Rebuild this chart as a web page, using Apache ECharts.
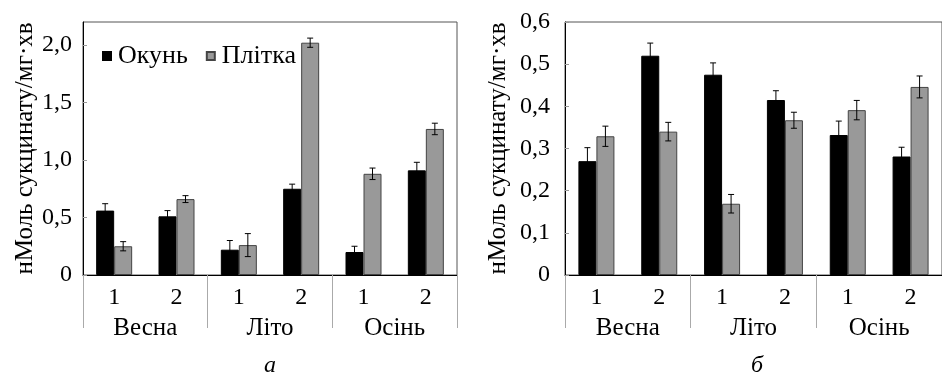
<!DOCTYPE html>
<html>
<head>
<meta charset="utf-8">
<script src="https://cdn.jsdelivr.net/npm/echarts@6/dist/echarts.min.js"></script>
<style>
  html, body { margin: 0; padding: 0; background: #fff; }
  #chart { width: 942px; height: 380px; }
</style>
</head>
<body>
<div id="chart"></div>
<script>
// seasons and sample numbers on the category axis
const seasons = ["Весна", "Літо", "Осінь"];
const samples = ["1", "2"];
const legendNames = ["Окунь", "Плітка"];
const yName = "нМоль сукцинату/мг·хв";

// panel а
const perchA = [0.56, 0.51, 0.22, 0.75, 0.2, 0.91];
const perchAErr = [0.06, 0.05, 0.08, 0.04, 0.05, 0.07];
const roachA = [0.25, 0.66, 0.26, 2.02, 0.88, 1.27];
const roachAErr = [0.04, 0.03, 0.1, 0.04, 0.05, 0.05];

// panel б
const perchB = [0.27, 0.52, 0.475, 0.415, 0.332, 0.281];
const perchBErr = [0.032, 0.03, 0.028, 0.022, 0.033, 0.022];
const roachB = [0.329, 0.34, 0.169, 0.367, 0.391, 0.446];
const roachBErr = [0.024, 0.022, 0.022, 0.019, 0.023, 0.026];

const categories = [];
seasons.forEach((s) => samples.forEach((n) => categories.push(s + " " + n)));

const FONT = "Liberation Serif";
const FS = 24;
const BAR_W = 18;

const chart = echarts.init(document.getElementById("chart"));

function fmtY(v) {
  return v === 0 ? "0" : v.toFixed(1).replace(".", ",");
}

function xAxes(grid) {
  return [
    {
      gridIndex: grid,
      type: "category",
      position: "bottom",
      data: categories,
      axisLine: { lineStyle: { color: "#000", width: 1 } },
      axisTick: { length: 27, lineStyle: { color: "#aaa" } },
      axisLabel: {
        margin: 11,
        color: "#000",
        fontFamily: FONT,
        fontSize: FS,
        formatter: (v) => v.split(" ")[1],
      },
    },
    {
      gridIndex: grid,
      type: "category",
      position: "bottom",
      offset: 0,
      data: seasons,
      axisLine: { show: false },
      axisTick: { show: true, length: 53, lineStyle: { color: "#aaa" } },
      axisLabel: { margin: 41, color: "#000", fontFamily: FONT, fontSize: 25 },
    },
  ];
}

function yAxis(grid, max, interval, margin, gap, showMax) {
  return {
    gridIndex: grid,
    type: "value",
    min: 0,
    max: max,
    interval: interval,
    name: yName,
    nameLocation: "middle",
    nameGap: gap,
    nameTextStyle: { color: "#000", fontFamily: FONT, fontSize: 25 },
    axisLine: { show: true, lineStyle: { color: "#000", width: 1 } },
    axisTick: { show: true, inside: true, length: 4, lineStyle: { color: "#999" } },
    axisLabel: {
      margin: margin,
      color: "#000",
      fontFamily: FONT,
      fontSize: FS,
      showMaxLabel: showMax,
      formatter: fmtY,
    },
    splitLine: { show: false },
  };
}

function errorSeries(name, grid, vals, errs, shift) {
  return {
    name: name,
    type: "custom",
    xAxisIndex: grid * 2,
    yAxisIndex: grid,
    z: 5,
    data: vals.map((v, i) => [i, v, errs[i]]),
    renderItem: function (params, api) {
      const i = api.value(0);
      const v = api.value(1);
      const e = api.value(2);
      const hi = api.coord([i, v + e]);
      const lo = api.coord([i, v - e]);
      const x = hi[0] + shift;
      const cap = 3;
      const style = { stroke: "#000", lineWidth: 1 };
      return {
        type: "group",
        children: [
          { type: "line", shape: { x1: x, y1: hi[1], x2: x, y2: lo[1] }, style: style },
          { type: "line", shape: { x1: x - cap, y1: hi[1], x2: x + cap, y2: hi[1] }, style: style },
          { type: "line", shape: { x1: x - cap, y1: lo[1], x2: x + cap, y2: lo[1] }, style: style },
        ],
      };
    },
  };
}

function barSeries(name, grid, vals, color, border) {
  return {
    name: name,
    type: "bar",
    xAxisIndex: grid * 2,
    yAxisIndex: grid,
    barWidth: BAR_W,
    barGap: "0%",
    itemStyle: { color: color, borderColor: border, borderWidth: 1 },
    data: vals,
  };
}

chart.setOption({
  animation: false,
  textStyle: { fontFamily: FONT },
  grid: [
    { left: 83, top: 22, width: 374, height: 253, show: true, borderColor: "#555", borderWidth: 1 },
    { left: 565, top: 22, width: 386, height: 253, show: true, borderColor: "#555", borderWidth: 1 },
  ],
  legend: {
    data: legendNames,
    left: 97,
    top: 38,
    icon: "rect",
    itemWidth: 8,
    itemHeight: 8,
    itemGap: 18,
    textStyle: { color: "#000", fontFamily: FONT, fontSize: 26, padding: [0, 0, 0, 2] },
  },
  xAxis: [...xAxes(0), ...xAxes(1)],
  yAxis: [yAxis(0, 2.2, 0.5, 11, 40, false), yAxis(1, 0.6, 0.1, 15, 54, true)],
  series: [
    barSeries(legendNames[0], 0, perchA, "#000", "#000"),
    barSeries(legendNames[1], 0, roachA, "#999", "#444"),
    errorSeries("errA1", 0, perchA, perchAErr, -BAR_W / 2),
    errorSeries("errA2", 0, roachA, roachAErr, BAR_W / 2),
    barSeries(legendNames[0], 1, perchB, "#000", "#000"),
    barSeries(legendNames[1], 1, roachB, "#999", "#444"),
    errorSeries("errB1", 1, perchB, perchBErr, -BAR_W / 2),
    errorSeries("errB2", 1, roachB, roachBErr, BAR_W / 2),
  ],
  graphic: [
    { type: "text", left: 264, top: 354, style: { text: "а", fontFamily: FONT, fontStyle: "italic", fontSize: FS, fill: "#000" } },
    { type: "text", left: 751, top: 354, style: { text: "б", fontFamily: FONT, fontStyle: "italic", fontSize: FS, fill: "#000" } },
  ],
});

window.addEventListener("resize", () => chart.resize());
</script>
</body>
</html>
